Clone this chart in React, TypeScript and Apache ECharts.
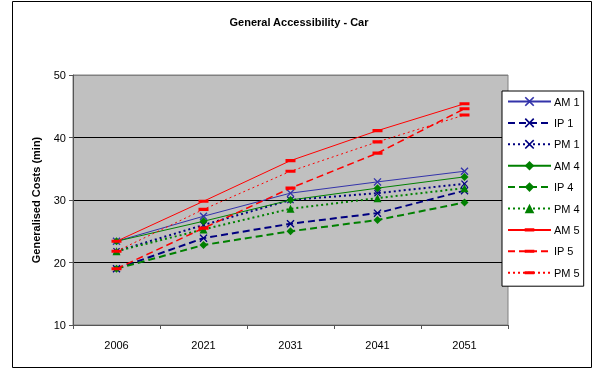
import React, { useEffect, useRef } from "react";
import * as echarts from "echarts";

const years = ["2006", "2021", "2031", "2041", "2051"];
const am1 = [23.4, 27.4, 31.1, 32.9, 34.6];
const ip1 = [19.0, 23.9, 26.2, 27.9, 31.5];
const pm1 = [21.8, 26.0, 30.0, 31.1, 32.6];
const am4 = [23.4, 26.6, 30.0, 31.9, 33.7];
const ip4 = [19.0, 22.8, 25.0, 26.8, 29.6];
const pm4 = [21.8, 25.3, 28.6, 30.3, 31.9];
const am5 = [23.4, 29.8, 36.3, 41.1, 45.4];
const ip5 = [19.0, 25.5, 31.9, 37.5, 44.6];
const pm5 = [21.8, 28.5, 34.6, 39.3, 43.6];

const X_SYM =
  "path://M0,1.2 L1.2,0 L5,3.8 L8.8,0 L10,1.2 L6.2,5 L10,8.8 L8.8,10 L5,6.2 L1.2,10 L0,8.8 L3.8,5 Z";
const BAR_SYM =
  "path://M0,0L0.01,0L0.01,0.01ZM0,3.4H10V6.6H0ZM9.99,10L10,10L10,9.99Z";

export default function App() {
  const ref = useRef<HTMLDivElement>(null);
  useEffect(() => {
    if (!ref.current) return;
    const chart = echarts.init(ref.current, null, { renderer: "svg" });
    const navy = "#000080";
    const blue = "#3333aa";
    const green = "#008000";
    const red = "#ff0000";
    const mk = (
      name: string,
      data: number[],
      color: string,
      type: any,
      width: number,
      symbol: string,
      size: any
    ) => ({
      name,
      type: "line",
      data,
      symbol,
      symbolSize: size,
      showSymbol: true,
      lineStyle: { color, width, type },
      itemStyle: { color, borderWidth: 0 },
      z: 3,
    });
    chart.setOption({
      animation: false,
      textStyle: { fontFamily: "Liberation Sans, Arial, sans-serif" },
      title: {
        text: "General Accessibility - Car",
        left: 294,
        textAlign: "center",
        top: 11,
        textStyle: { fontSize: 11, fontWeight: "bold", color: "#000" },
      },
      graphic: [
        {
          type: "rect",
          shape: { x: 12.5, y: 1.5, width: 579, height: 366 },
          style: { fill: "none", stroke: "#000", lineWidth: 1 },
          silent: true,
          z: 0,
        },
      ],
      grid: {
        left: 73,
        right: 85,
        top: 75,
        bottom: 44,
        show: true,
        backgroundColor: "#c0c0c0",
        borderColor: "#808080",
        borderWidth: 1,
      },
      legend: {
        orient: "vertical",
        left: 502,
        top: 91,
        width: 82,
        padding: [5, 4, 8, 5],
        itemWidth: 43,
        itemHeight: 12,
        itemGap: 10.4,
        backgroundColor: "#fff",
        borderColor: "#000",
        borderWidth: 1,
        textStyle: { fontSize: 11, color: "#000", padding: [0, 0, 0, -2] },
        data: ["AM 1", "IP 1", "PM 1", "AM 4", "IP 4", "PM 4", "AM 5", "IP 5", "PM 5"],
      },
      xAxis: {
        type: "category",
        data: years,
        boundaryGap: true,
        axisLine: { lineStyle: { color: "#555", width: 1 } },
        axisTick: { show: true, length: 4, inside: false, lineStyle: { color: "#555" } },
        axisLabel: { fontSize: 11, color: "#000", margin: 14 },
      },
      yAxis: {
        type: "value",
        min: 10,
        max: 50,
        interval: 10,
        name: "Generalised Costs (min)",
        nameLocation: "middle",
        nameGap: 32,
        nameTextStyle: { fontSize: 11, fontWeight: "bold", color: "#000" },
        axisLine: { show: true, lineStyle: { color: "#555", width: 1 } },
        axisTick: { show: true, length: 4, lineStyle: { color: "#555" } },
        axisLabel: { fontSize: 11, color: "#000", margin: 7 },
        splitLine: {
          show: true,
          lineStyle: { color: ["#808080", "#000", "#000", "#000", "#808080"], width: 1 },
        },
      },
      series: [
        mk("AM 1", am1, blue, "solid", 1, X_SYM, 8),
        mk("IP 1", ip1, navy, [7, 4], 2, X_SYM, 8),
        mk("PM 1", pm1, navy, [2, 3], 2, X_SYM, 7),
        mk("AM 4", am4, green, "solid", 1, "diamond", 8),
        mk("IP 4", ip4, green, [7, 4], 2, "diamond", 8),
        mk("PM 4", pm4, green, [2, 3], 2, "triangle", 8),
        mk("AM 5", am5, red, "solid", 1, BAR_SYM, 10),
        mk("IP 5", ip5, red, [7, 4], 1.5, BAR_SYM, 10),
        mk("PM 5", pm5, red, [2, 3], 1, BAR_SYM, 10),
      ],
    });
    return () => chart.dispose();
  }, []);
  return (
    <div
      ref={ref}
      style={{ position: "fixed", left: 0, top: 0, width: 593, height: 369 }}
    />
  );
}
